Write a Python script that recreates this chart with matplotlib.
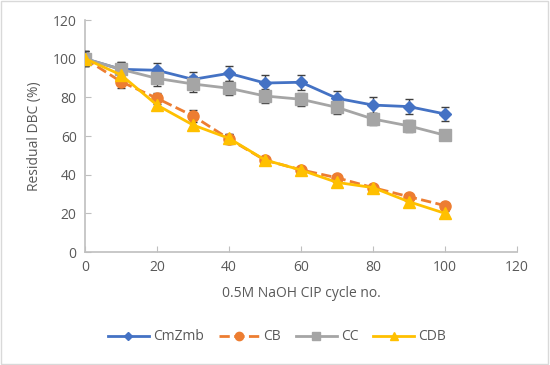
import matplotlib
matplotlib.use("Agg")
from matplotlib import pyplot as plt
from matplotlib.lines import Line2D
from matplotlib.patches import Rectangle

cycles = [0, 10, 20, 30, 40, 50, 60, 70, 80, 90, 100]
cmzmb = [100, 94.5, 94, 89.3, 92.4, 87.4, 87.8, 79.5, 76, 75.2, 71.4]
cmzmb_err = [4, 4, 4, 4, 4, 4, 4, 4, 4, 4, 3.5]
cb = [100, 88.1, 79.5, 70.4, 58.5, 47.5, 42.5, 38.4, 33.3, 28.6, 24]
cb_err = [4, 3.5, 3, 3, 2.5, 1.5, 1.5, 1.5, 1.5, 1.5, 1.5]
cc = [100, 94.5, 89.8, 86.9, 84.7, 80.7, 79, 74.8, 68.8, 65.2, 60.4]
cc_err = [4, 4, 4, 4, 3.5, 3.5, 3.5, 3.5, 3, 3, 2]
cdb = [100, 91.6, 76, 65.7, 58.8, 47.6, 42.4, 36, 33.3, 26, 20]
cdb_err = [3, 3, 2.5, 2.5, 2, 1.5, 1.5, 1.5, 1.5, 1.5, 1]

plt.rcParams['font.family'] = ['Open Sans', 'DejaVu Sans']
grey = "#595959"
axc = "#bfbfbf"

fig = plt.figure(figsize=(5.5, 3.65), dpi=100)
ax = fig.add_axes([85 / 550, 1 - 252 / 365, 432 / 550, 232 / 365])

series = [
    ("CmZmb", cmzmb, cmzmb_err, "#4472c4", "D", "-", 6),
    ("CB", cb, cb_err, "#ed7d31", "o", "--", 8),
    ("CC", cc, cc_err, "#a5a5a5", "s", "-", 8),
    ("CDB", cdb, cdb_err, "#ffc000", "^", "-", 8),
]
handles = []
for name, vals, err, col, mk, ls, ms in series:
    ax.errorbar(cycles, vals, yerr=err, color=col, marker=mk, ls=ls, lw=2,
                ms=ms, ecolor="#404040", elinewidth=1, capsize=3, zorder=3)
    handles.append(Line2D([], [], color=col, marker=mk, ls=ls, lw=2,
                          ms=ms * 0.75, label=name))

ax.set_xlim(0, 120)
ax.set_ylim(0, 120)
ax.set_xticks(range(0, 121, 20))
ax.set_yticks(range(0, 121, 20))
for s in ["top", "right"]:
    ax.spines[s].set_visible(False)
for s in ["left", "bottom"]:
    ax.spines[s].set_color(axc)
    ax.spines[s].set_linewidth(1.2)
ax.tick_params(direction="in", length=4, color=axc, labelcolor=grey,
               labelsize=10, pad=6)
ax.set_xlabel("0.5M NaOH CIP cycle no.", color=grey, fontsize=10, labelpad=8)
ax.set_ylabel("Residual DBC (%)", color=grey, fontsize=10, labelpad=8)

ax.legend(handles=handles, loc="center", bbox_to_anchor=(277 / 550, 1 - 337 / 365),
          bbox_transform=fig.transFigure, ncol=4, frameon=False,
          fontsize=10, handlelength=2.9, handletextpad=0.3, columnspacing=1.1,
          labelcolor=grey)

fig.patches.append(Rectangle((0.002, 0.003), 0.995, 0.993, transform=fig.transFigure,
                             fill=False, edgecolor="#d9d9d9", lw=1))
fig.savefig("out.png", dpi=100)
